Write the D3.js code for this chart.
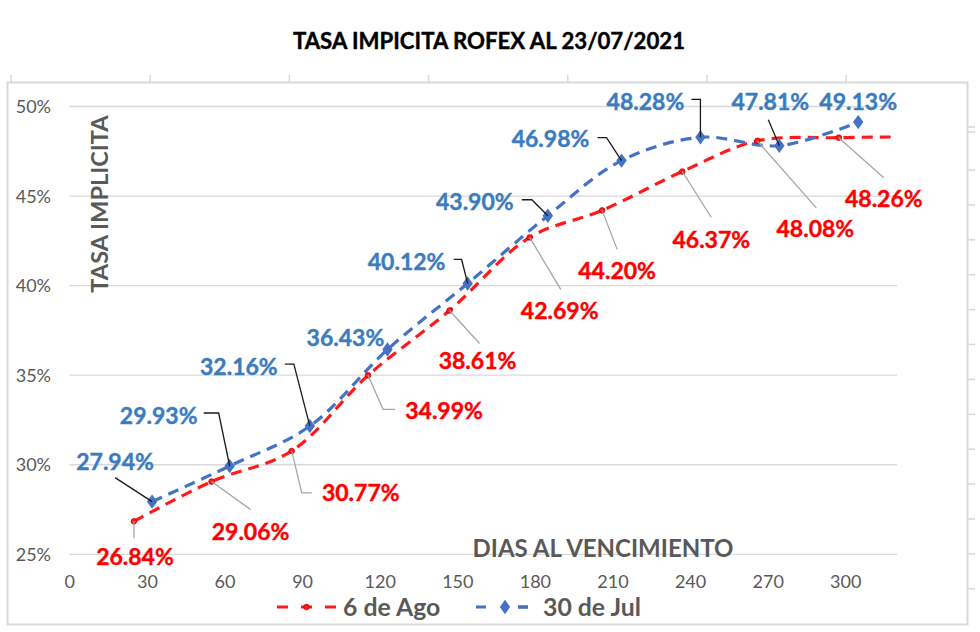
<!DOCTYPE html>
<html>
<head>
<meta charset="utf-8">
<script src="https://cdn.jsdelivr.net/npm/d3@7"></script>
<style>
  html, body { margin: 0; padding: 0; background: #fff; }
  svg { display: block; }
  text { font-family: Lato, "Open Sans", sans-serif; }
</style>
</head>
<body>
<svg id="chart" width="980" height="632"></svg>
<script>
// ---------- DATA ----------
const title = "TASA IMPICITA ROFEX AL 23/07/2021";
const yAxisTitle = "TASA IMPLICITA";
const xAxisTitle = "DIAS AL VENCIMIENTO";
const xTicks = [0, 30, 60, 90, 120, 150, 180, 210, 240, 270, 300];
const yTicks = [25, 30, 35, 40, 45, 50];

const seriesNames = ["6 de Ago", "30 de Jul"];

// 6 de Ago (red)
const agoDays   = [25, 55, 86, 115.5, 147, 178, 206, 237, 266, 297.5, 320];
const agoValues = [26.84, 29.06, 30.77, 34.99, 38.61, 42.69, 44.20, 46.37, 48.08, 48.26, 48.30];
const agoLabels = ["26.84%", "29.06%", "30.77%", "34.99%", "38.61%", "42.69%", "44.20%", "46.37%", "48.08%", "48.26%", null];

// 30 de Jul (blue)
const julDays   = [32, 62, 93, 123, 154, 185, 213.5, 244, 274.5, 305];
const julValues = [27.94, 29.93, 32.16, 36.43, 40.12, 43.90, 46.98, 48.28, 47.81, 49.13];
const julLabels = ["27.94%", "29.93%", "32.16%", "36.43%", "40.12%", "43.90%", "46.98%", "48.28%", "47.81%", "49.13%"];

// ---------- LAYOUT (label placement, px offsets from the point) ----------
const agoLabelOffsets = [[1,35.5],[39,50],[69,42],[76,35],[28,50],[30,73],[15,60],[29,68],[58,88],[45,61],null];
const agoLeaders = [
  [[0,17]], [[39,28]], [[20,42],[10,42]], [[27,34],[15,34]], [[30,33]],
  [[31,52]], [[15,39]], [[29,46]], [[59,67]], [[45,40]], null
];
const julLabelOffsets = [[-37,-40],[-71,-50],[-71,-59],[-42,-12],[-61,-22],[-73,-14],[-71,-22],[-55,-36],[-9,-44],[0,-20]];
const julLeaders = [
  [[-37,-24]], [[-26,-53],[-11,-53]], [[-25,-62],[-16,-62]], null,
  [[-14,-24],[-6,-24]], [[-26,-16],[-16,-16]], [[-24,-23],[-15,-23]],
  [[-9,-38],[0,-38]], [[-11,-26]], null
];

// ---------- CHART ----------
const svg = d3.select("#chart");

const x = d3.scaleLinear().domain([0, 320]).range([69.3, 897]);
const y = d3.scaleLinear().domain([25, 50]).range([554.3, 106.5]);

const RED = "#ff1a1a", BLUE = "#4472c4", BLUE_TXT = "#3a7cbf", GRAY = "#595959";

// frame (spreadsheet-like)
const frame = svg.append("g");
frame.append("rect").attr("x", 7.5).attr("y", 82.5).attr("width", 960).attr("height", 542)
  .attr("fill", "#fff").attr("stroke", "#d9d9d9").attr("stroke-width", 2);
d3.range(7).forEach(i => {
  const xx = 11 + i * 139.2;
  frame.append("line").attr("x1", xx).attr("x2", xx).attr("y1", 75).attr("y2", 82)
    .attr("stroke", "#d9d9d9").attr("stroke-width", 1.5);
});
[127, 132].concat(d3.range(13).map(i => 170 + i * 34.9)).forEach(yy => {
  frame.append("line").attr("x1", 967).attr("x2", 975).attr("y1", yy).attr("y2", yy)
    .attr("stroke", "#d9d9d9").attr("stroke-width", 1.5);
});

// title
svg.append("text").attr("x", 489).attr("y", 48.5).attr("text-anchor", "middle")
  .attr("font-size", 22.2).attr("font-weight", 700).attr("fill", "#000")
  .attr("stroke", "#000").attr("stroke-width", 0.4).text(title);

// gridlines
svg.append("g").selectAll("line").data(yTicks).join("line")
  .attr("x1", x(0)).attr("x2", x(320))
  .attr("y1", d => y(d)).attr("y2", d => y(d))
  .attr("stroke", "#d9d9d9").attr("stroke-width", 1.3);

// y axis labels
const yAxis = d3.axisLeft(y).tickValues(yTicks).tickFormat(d => d + "%").tickSize(0).tickPadding(0);
const gy = svg.append("g").attr("transform", "translate(51,0)").call(yAxis);
gy.select(".domain").remove();
gy.selectAll("text").attr("font-size", 18).attr("fill", GRAY)
  .attr("font-family", "Lato, sans-serif").attr("dy", "0.34em");

// x axis labels
const xAxis = d3.axisBottom(x).tickValues(xTicks).tickSize(0).tickPadding(0);
const gx = svg.append("g").attr("transform", "translate(0,578.5)").call(xAxis);
gx.select(".domain").remove();
gx.selectAll("text").attr("font-size", 18).attr("fill", GRAY)
  .attr("font-family", "Lato, sans-serif").attr("dy", "0.55em");

// axis titles
svg.append("text").attr("transform", "translate(108,204) rotate(-90)")
  .attr("text-anchor", "middle").attr("font-size", 23.6).attr("font-weight", 700)
  .attr("fill", GRAY).text(yAxisTitle);
svg.append("text").attr("x", 603).attr("y", 557).attr("text-anchor", "middle")
  .attr("font-size", 24).attr("font-weight", 700).attr("fill", GRAY).text(xAxisTitle);

// lines
const ago = agoDays.map((d, i) => ({d, v: agoValues[i], label: agoLabels[i], off: agoLabelOffsets[i], lead: agoLeaders[i]}));
const jul = julDays.map((d, i) => ({d, v: julValues[i], label: julLabels[i], off: julLabelOffsets[i], lead: julLeaders[i]}));

const line = d3.line().x(p => x(p.d)).y(p => y(p.v)).curve(d3.curveCatmullRom.alpha(0.5));

svg.append("path").datum(ago).attr("d", line).attr("fill", "none")
  .attr("stroke", RED).attr("stroke-width", 3.2).attr("stroke-dasharray", "11,7");
svg.append("path").datum(jul).attr("d", line).attr("fill", "none")
  .attr("stroke", BLUE).attr("stroke-width", 3.2).attr("stroke-dasharray", "11,7");

// markers
const diamond = d3.symbol().type(d3.symbolDiamond).size(60);
svg.append("g").selectAll("path").data(jul).join("path")
  .attr("d", diamond).attr("transform", p => `translate(${x(p.d)},${y(p.v)}) scale(1.25,1)`)
  .attr("fill", BLUE);
svg.append("g").selectAll("circle").data(ago.filter(p => p.label)).join("circle")
  .attr("cx", p => x(p.d)).attr("cy", p => y(p.v)).attr("r", 2.8)
  .attr("fill", RED).attr("stroke", "#c00000").attr("stroke-width", 0.8);

// leaders
function drawLeaders(data, color) {
  svg.append("g").selectAll("polyline").data(data.filter(p => p.lead)).join("polyline")
    .attr("points", p => {
      const px = x(p.d), py = y(p.v);
      const pts = p.lead.map(o => [px + o[0], py + o[1]]);
      pts.push([px, py]);
      return pts.map(q => q.join(",")).join(" ");
    })
    .attr("fill", "none").attr("stroke", color).attr("stroke-width", 1.3);
}
drawLeaders(ago, "#a6a6a6");
drawLeaders(jul, "#1a1a1a");

// labels
function drawLabels(data, color) {
  svg.append("g").selectAll("text").data(data.filter(p => p.label)).join("text")
    .attr("x", p => x(p.d) + p.off[0]).attr("y", p => y(p.v) + p.off[1])
    .attr("dy", "0.36em").attr("text-anchor", "middle")
    .attr("font-size", 23).attr("font-weight", 700).attr("fill", color)
    .attr("stroke", color).attr("stroke-width", 0.4)
    .text(p => p.label);
}
drawLabels(ago, "#ff0000");
drawLabels(jul, BLUE_TXT);

// legend
const lg = svg.append("g");
const ly = 607;
lg.append("line").attr("x1", 277).attr("x2", 336).attr("y1", ly).attr("y2", ly)
  .attr("stroke", RED).attr("stroke-width", 3.2).attr("stroke-dasharray", "11,13");
lg.append("circle").attr("cx", 306.5).attr("cy", ly).attr("r", 2.8).attr("fill", RED)
  .attr("stroke", "#c00000").attr("stroke-width", 0.8);
lg.append("text").attr("x", 343).attr("y", ly).attr("dy", "0.36em")
  .attr("font-size", 24.8).attr("font-weight", 700).attr("fill", GRAY).text(seriesNames[0]);
lg.append("line").attr("x1", 476).attr("x2", 528).attr("y1", ly).attr("y2", ly)
  .attr("stroke", BLUE).attr("stroke-width", 3.2).attr("stroke-dasharray", "10,32");
lg.append("path").attr("d", diamond).attr("transform", `translate(505,${ly}) scale(1.25,1)`).attr("fill", BLUE);
lg.append("line").attr("x1", 518).attr("x2", 528).attr("y1", ly).attr("y2", ly)
  .attr("stroke", BLUE).attr("stroke-width", 3.2);
lg.append("text").attr("x", 543).attr("y", ly).attr("dy", "0.36em")
  .attr("font-size", 24.8).attr("font-weight", 700).attr("fill", GRAY).text(seriesNames[1]);
</script>
</body>
</html>
